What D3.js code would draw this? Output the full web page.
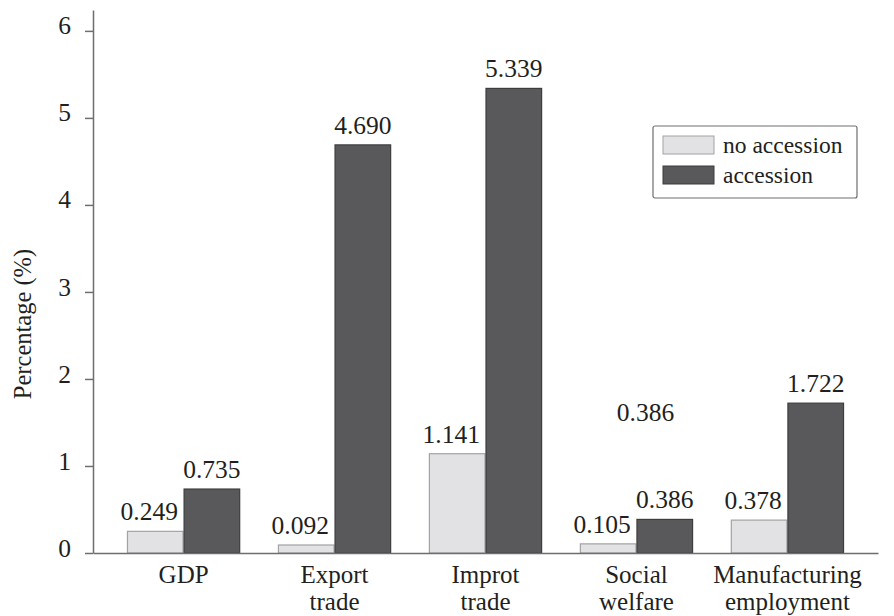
<!DOCTYPE html>
<html>
<head>
<meta charset="utf-8">
<script src="https://cdn.jsdelivr.net/npm/d3@7"></script>
</head>
<body style="margin:0; background:#fff">
<script>
// data
var categories = ["GDP", "Export trade", "Improt trade", "Social welfare", "Manufacturing employment"];
var catLines = [["GDP"], ["Export", "trade"], ["Improt", "trade"], ["Social", "welfare"], ["Manufacturing", "employment"]];
var seriesNames = ["no accession", "accession"];
var noAccession = [0.249, 0.092, 1.141, 0.105, 0.378];
var accession = [0.735, 4.690, 5.339, 0.386, 1.722];
var yTicks = [0, 1, 2, 3, 4, 5, 6];
// stray label that sits above the social welfare group in the original
var strayLabel = { text: "0.386", cat: "Social welfare", value: 1.52 };

var W = 894, H = 616;
var FONT = "Liberation Serif";
var INK = "#231f20";
var colors = { "no accession": "#e2e2e4", "accession": "#59595b" };
var strokes = { "no accession": "#a3a3a5", "accession": "#3d3d3f" };

var svg = d3.select("body").append("svg")
    .attr("width", W)
    .attr("height", H)
    .attr("font-family", FONT);

function txt(sel, size) {
  return sel.attr("font-family", FONT)
    .style("font-family", "'" + FONT + "'")
    .attr("font-size", size)
    .style("font-size", size + "px")
    .attr("fill", INK);
}

var x = d3.scaleBand()
    .domain(categories)
    .range([93, 878])
    .paddingInner(0.25)
    .paddingOuter(0.225);

var xSub = d3.scaleBand()
    .domain(seriesNames)
    .range([0, x.bandwidth()]);

var y = d3.scaleLinear()
    .domain([0, 6.24])
    .range([553, 10]);

var rows = categories.map(function (c, i) {
  return { cat: c, values: [
    { key: "no accession", value: noAccession[i] },
    { key: "accession", value: accession[i] }
  ]};
});

// bars
var groups = svg.selectAll(".grp")
    .data(rows)
  .enter().append("g")
    .attr("class", "grp")
    .attr("transform", function (d) { return "translate(" + x(d.cat) + ",0)"; });

groups.selectAll("rect")
    .data(function (d) { return d.values; })
  .enter().append("rect")
    .attr("x", function (d) { return xSub(d.key) + 0.5; })
    .attr("y", function (d) { return y(d.value); })
    .attr("width", xSub.bandwidth() - 1)
    .attr("height", function (d) { return y(0) - y(d.value); })
    .attr("fill", function (d) { return colors[d.key]; })
    .attr("stroke", function (d) { return strokes[d.key]; })
    .attr("stroke-width", 1.2);

// value labels
txt(groups.selectAll(".val")
    .data(function (d) { return d.values; })
  .enter().append("text")
    .attr("class", "val")
    .attr("x", function (d) {
      var off = d.key == "no accession" ? -6 : 0;
      return xSub(d.key) + xSub.bandwidth() / 2 + off;
    })
    .attr("y", function (d) { return y(d.value) - 11; })
    .attr("text-anchor", "middle"), 25.5)
    .text(function (d) { return d.value.toFixed(3); });

txt(svg.append("text")
    .attr("x", x(strayLabel.cat) + x.bandwidth() / 2 + 9)
    .attr("y", y(strayLabel.value))
    .attr("text-anchor", "middle"), 25.5)
    .text(strayLabel.text);

// y axis
var yAxis = d3.axisLeft(y)
    .tickValues(yTicks)
    .tickFormat(d3.format("d"))
    .tickSize(8)
    .tickSizeOuter(0)
    .tickPadding(14);

var gy = svg.append("g")
    .attr("transform", "translate(93,0)")
    .call(yAxis)
    .attr("font-family", FONT)
    .attr("font-size", 25);
gy.select(".domain").attr("stroke", "#6d6e71").attr("stroke-width", 1.5);
gy.selectAll(".tick line").attr("stroke", "#6d6e71").attr("stroke-width", 1.5);
txt(gy.selectAll(".tick text").attr("dy", "0.12em"), 25.5);

// x axis
var xAxis = d3.axisBottom(x).tickSize(0).tickSizeOuter(0).tickFormat("");
var gx = svg.append("g")
    .attr("transform", "translate(0,553)")
    .call(xAxis)
    .attr("font-family", FONT)
    .attr("font-size", 25);
gx.select(".domain").attr("stroke", "#6d6e71").attr("stroke-width", 1.5);

// two-line category labels, one text per line
gx.selectAll(".tick").each(function (d, i) {
  var tick = d3.select(this);
  catLines[i].forEach(function (line, j) {
    txt(tick.append("text")
        .attr("text-anchor", "middle")
        .attr("x", 0)
        .attr("y", 30 + j * 27), 25)
      .text(line);
  });
});

// y title
txt(svg.append("text")
    .attr("transform", "translate(31,324) rotate(-90)")
    .attr("text-anchor", "middle"), 24.5)
    .text("Percentage (%)");

// legend
var legend = svg.append("g").attr("transform", "translate(653,126)");
legend.append("rect")
    .attr("width", 204)
    .attr("height", 72)
    .attr("rx", 2)
    .attr("fill", "#fff")
    .attr("stroke", "#6d6e71")
    .attr("stroke-width", 1.2);

var items = legend.selectAll(".item")
    .data(seriesNames)
  .enter().append("g")
    .attr("transform", function (d, i) { return "translate(10," + (10 + i * 30) + ")"; });

items.append("rect")
    .attr("width", 51)
    .attr("height", 18)
    .attr("fill", function (d) { return colors[d]; })
    .attr("stroke", function (d) { return strokes[d]; });

txt(items.append("text")
    .attr("x", 60)
    .attr("y", 17), 23.5)
    .text(function (d) { return d; });
</script>
</body>
</html>
